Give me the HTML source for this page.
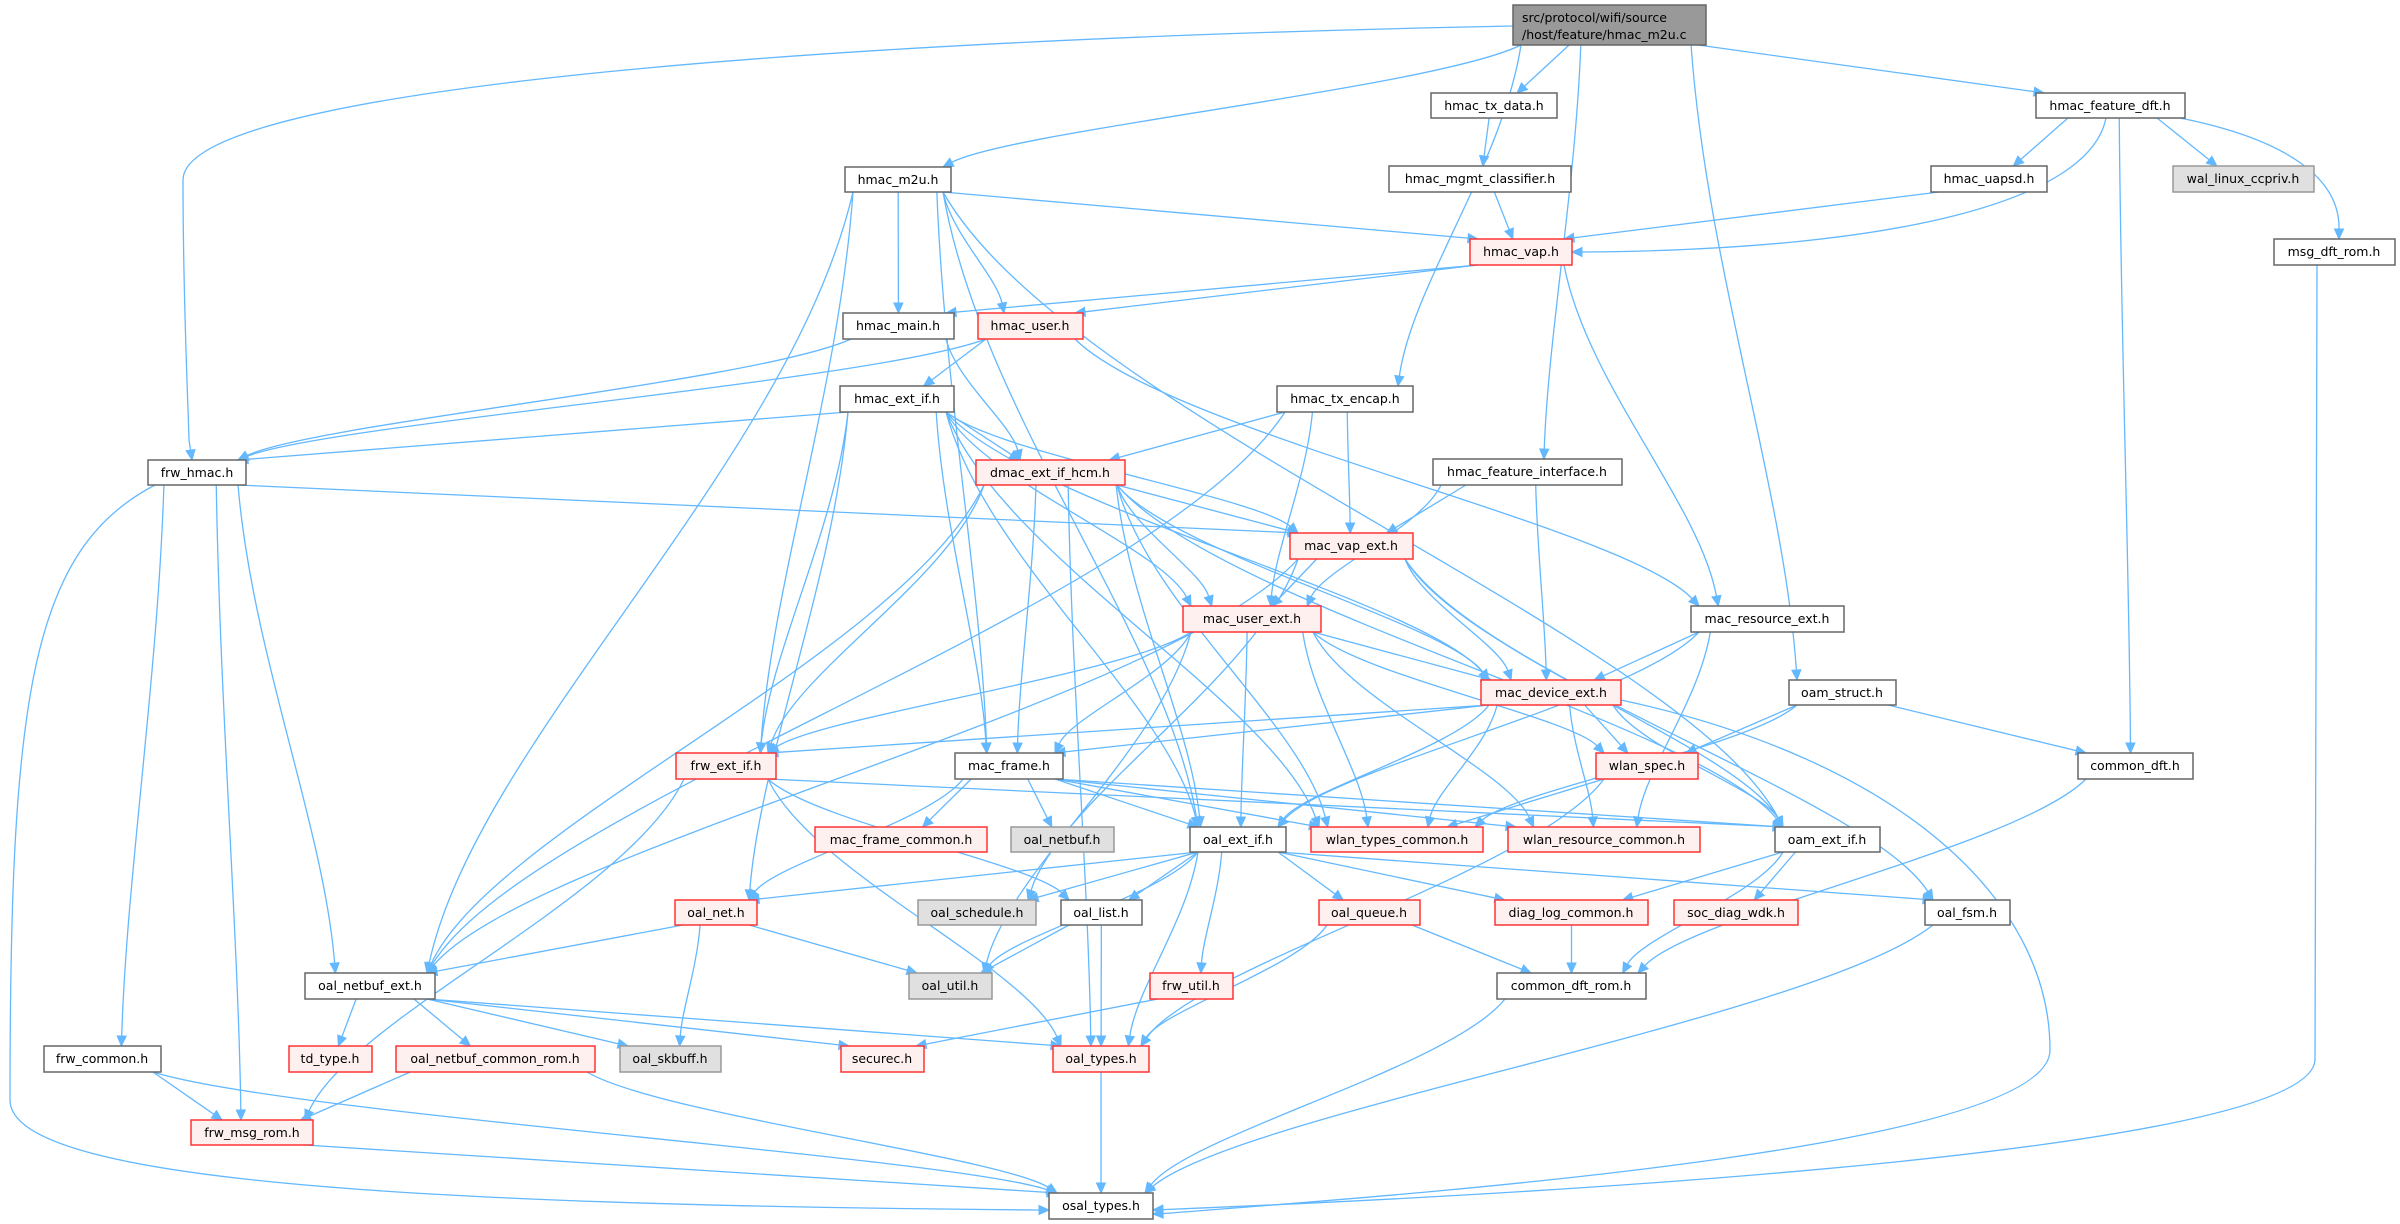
<!DOCTYPE html>
<html><head><meta charset="utf-8">
<style>
html,body{margin:0;padding:0;background:#fff;}
svg{display:block;}
text{font-family:"DejaVu Sans","Liberation Sans",sans-serif;font-size:12.5px;fill:#000;text-anchor:middle;}
.n rect{fill:#fff;stroke:#666;stroke-width:1.5;}
.r rect{fill:#fff0f0;stroke:#f33;stroke-width:1.5;}
.g rect{fill:#e0e0e0;stroke:#999;stroke-width:1.5;}
.root rect{fill:#999;stroke:#666;stroke-width:1.5;}
</style></head>
<body>
<svg id="s" width="2400" height="1224" viewBox="0 0 2400 1224" xmlns="http://www.w3.org/2000/svg">
<g id="edges"></g>
<g id="nodes">
<g class="root"><rect x="1513" y="5" width="193" height="40"/><text x="1609" y="22" style="text-anchor:start" dx="-87">src/protocol/wifi/source</text><text x="1609" y="39" style="text-anchor:start" dx="-87">/host/feature/hmac_m2u.c</text></g>
<g class="n"><rect x="845" y="167" width="106" height="25"/><text x="898" y="184">hmac_m2u.h</text></g>
<g class="n"><rect x="843" y="313" width="111" height="26"/><text x="898" y="330">hmac_main.h</text></g>
<g class="r"><rect x="978" y="313" width="105" height="26"/><text x="1030" y="330">hmac_user.h</text></g>
<g class="n"><rect x="840" y="386" width="114" height="26"/><text x="897" y="403">hmac_ext_if.h</text></g>
<g class="n"><rect x="148" y="460" width="98" height="25"/><text x="197" y="477">frw_hmac.h</text></g>
<g class="r"><rect x="976" y="460" width="149" height="25"/><text x="1050" y="477">dmac_ext_if_hcm.h</text></g>
<g class="n"><rect x="1431" y="93" width="126" height="25"/><text x="1494" y="110">hmac_tx_data.h</text></g>
<g class="n"><rect x="2036" y="93" width="149" height="25"/><text x="2110" y="110">hmac_feature_dft.h</text></g>
<g class="n"><rect x="1389" y="166" width="182" height="26"/><text x="1480" y="183">hmac_mgmt_classifier.h</text></g>
<g class="n"><rect x="1931" y="166" width="116" height="26"/><text x="1989" y="183">hmac_uapsd.h</text></g>
<g class="g"><rect x="2173" y="166" width="141" height="26"/><text x="2243" y="183">wal_linux_ccpriv.h</text></g>
<g class="r"><rect x="1470" y="239" width="102" height="26"/><text x="1521" y="256">hmac_vap.h</text></g>
<g class="n"><rect x="2274" y="239" width="121" height="26"/><text x="2334" y="256">msg_dft_rom.h</text></g>
<g class="n"><rect x="1277" y="386" width="136" height="26"/><text x="1345" y="403">hmac_tx_encap.h</text></g>
<g class="n"><rect x="1433" y="459" width="189" height="26"/><text x="1527" y="476">hmac_feature_interface.h</text></g>
<g class="r"><rect x="1290" y="533" width="123" height="26"/><text x="1351" y="550">mac_vap_ext.h</text></g>
<g class="r"><rect x="1183" y="606" width="138" height="26"/><text x="1252" y="623">mac_user_ext.h</text></g>
<g class="n"><rect x="1691" y="606" width="153" height="26"/><text x="1767" y="623">mac_resource_ext.h</text></g>
<g class="r"><rect x="1481" y="680" width="140" height="25"/><text x="1551" y="697">mac_device_ext.h</text></g>
<g class="n"><rect x="1789" y="680" width="107" height="25"/><text x="1842" y="697">oam_struct.h</text></g>
<g class="r"><rect x="1596" y="753" width="102" height="26"/><text x="1647" y="770">wlan_spec.h</text></g>
<g class="n"><rect x="2078" y="753" width="115" height="26"/><text x="2135" y="770">common_dft.h</text></g>
<g class="n"><rect x="1190" y="827" width="96" height="25"/><text x="1238" y="844">oal_ext_if.h</text></g>
<g class="r"><rect x="1311" y="827" width="172" height="25"/><text x="1397" y="844">wlan_types_common.h</text></g>
<g class="r"><rect x="1508" y="827" width="192" height="25"/><text x="1604" y="844">wlan_resource_common.h</text></g>
<g class="n"><rect x="1775" y="827" width="105" height="25"/><text x="1827" y="844">oam_ext_if.h</text></g>
<g class="r"><rect x="1319" y="900" width="101" height="25"/><text x="1369" y="917">oal_queue.h</text></g>
<g class="r"><rect x="1495" y="900" width="153" height="25"/><text x="1571" y="917">diag_log_common.h</text></g>
<g class="r"><rect x="1674" y="900" width="124" height="25"/><text x="1736" y="917">soc_diag_wdk.h</text></g>
<g class="n"><rect x="1925" y="900" width="85" height="25"/><text x="1967" y="917">oal_fsm.h</text></g>
<g class="r"><rect x="1150" y="973" width="83" height="26"/><text x="1191" y="990">frw_util.h</text></g>
<g class="n"><rect x="1497" y="973" width="149" height="26"/><text x="1571" y="990">common_dft_rom.h</text></g>
<g class="n"><rect x="1049" y="1193" width="104" height="26"/><text x="1101" y="1210">osal_types.h</text></g>
<g class="r"><rect x="676" y="753" width="100" height="26"/><text x="726" y="770">frw_ext_if.h</text></g>
<g class="n"><rect x="955" y="753" width="108" height="26"/><text x="1009" y="770">mac_frame.h</text></g>
<g class="r"><rect x="815" y="827" width="172" height="25"/><text x="901" y="844">mac_frame_common.h</text></g>
<g class="g"><rect x="1011" y="827" width="103" height="25"/><text x="1062" y="844">oal_netbuf.h</text></g>
<g class="r"><rect x="675" y="900" width="82" height="25"/><text x="716" y="917">oal_net.h</text></g>
<g class="g"><rect x="918" y="900" width="118" height="25"/><text x="977" y="917">oal_schedule.h</text></g>
<g class="n"><rect x="1061" y="900" width="81" height="25"/><text x="1101" y="917">oal_list.h</text></g>
<g class="n"><rect x="305" y="973" width="130" height="26"/><text x="370" y="990">oal_netbuf_ext.h</text></g>
<g class="g"><rect x="909" y="973" width="83" height="26"/><text x="950" y="990">oal_util.h</text></g>
<g class="n"><rect x="44" y="1046" width="117" height="26"/><text x="102" y="1063">frw_common.h</text></g>
<g class="r"><rect x="289" y="1046" width="83" height="26"/><text x="330" y="1063">td_type.h</text></g>
<g class="r"><rect x="396" y="1046" width="199" height="26"/><text x="495" y="1063">oal_netbuf_common_rom.h</text></g>
<g class="g"><rect x="620" y="1046" width="101" height="26"/><text x="670" y="1063">oal_skbuff.h</text></g>
<g class="r"><rect x="841" y="1046" width="83" height="26"/><text x="882" y="1063">securec.h</text></g>
<g class="r"><rect x="1053" y="1046" width="96" height="26"/><text x="1101" y="1063">oal_types.h</text></g>
<g class="r"><rect x="191" y="1120" width="122" height="25"/><text x="252" y="1137">frw_msg_rom.h</text></g>
</g>
</svg>
<script>
var N={root:[1513,1706,5,45],m2u:[845,951,167,192],main:[843,954,313,339],user:[978,1083,313,339],extif:[840,954,386,412],
frwhmac:[148,246,460,485],dmac:[976,1125,460,485],txdata:[1431,1557,93,118],fdft:[2036,2185,93,118],mgmt:[1389,1571,166,192],
uapsd:[1931,2047,166,192],wal:[2173,2314,166,192],vap:[1470,1572,239,265],msgdft:[2274,2395,239,265],txencap:[1277,1413,386,412],
finter:[1433,1622,459,485],macvap:[1290,1413,533,559],macuser:[1183,1321,606,632],macres:[1691,1844,606,632],macdev:[1481,1621,680,705],
oamstruct:[1789,1896,680,705],wlanspec:[1596,1698,753,779],cdft:[2078,2193,753,779],oalext:[1190,1286,827,852],wtypes:[1311,1483,827,852],
wres:[1508,1700,827,852],oamext:[1775,1880,827,852],oalqueue:[1319,1420,900,925],diag:[1495,1648,900,925],socdiag:[1674,1798,900,925],
oalfsm:[1925,2010,900,925],frwutil:[1150,1233,973,999],cdftrom:[1497,1646,973,999],osal:[1049,1153,1193,1219],frwext:[676,776,753,779],
macframe:[955,1063,753,779],mfc:[815,987,827,852],oalnetbuf:[1011,1114,827,852],oalnet:[675,757,900,925],oalsched:[918,1036,900,925],
oallist:[1061,1142,900,925],netbufext:[305,435,973,999],oalutil:[909,992,973,999],frwcommon:[44,161,1046,1072],tdtype:[289,372,1046,1072],
nbcr:[396,595,1046,1072],skbuff:[620,721,1046,1072],securec:[841,924,1046,1072],oaltypes:[1053,1149,1046,1072],frwmsg:[191,313,1120,1145]};
var E={root:"m2u txdata txencap finter oamstruct fdft",fdft:"uapsd wal cdft",txdata:"mgmt",mgmt:"vap",uapsd:"vap",
vap:"main user macres",m2u:"main user vap oamext frwext macframe netbufext oalext",main:"frwhmac dmac",user:"frwhmac extif macres",
extif:"frwhmac dmac macvap macuser macdev frwext macframe oalext oalnet wtypes",txencap:"dmac macvap macuser netbufext",
finter:"macvap macuser macdev",frwhmac:"macvap frwcommon frwmsg netbufext",
dmac:"macvap macuser macdev frwext macframe oalext netbufext oaltypes wtypes oamext",
macvap:"macuser macdev netbufext oalsched oamext oalfsm",macuser:"macdev frwext macframe oalext wtypes wres wlanspec oalutil",
macres:"macdev oalext wres",macdev:"frwext macframe oalext wtypes wres wlanspec oamext",oamstruct:"wlanspec wtypes cdft",
wlanspec:"wtypes oaltypes",cdft:"cdftrom",frwext:"oamext oallist oaltypes frwmsg",
macframe:"oalnet mfc oalnetbuf oalext wtypes wres oamext",oalext:"oalnet oalsched oallist oalutil frwutil oaltypes oalqueue diag oalfsm",
oamext:"diag socdiag cdftrom",oalnet:"netbufext oalutil skbuff",oallist:"oalutil oaltypes",oalqueue:"cdftrom oaltypes",diag:"cdftrom",
frwutil:"securec",oalfsm:"osal",cdftrom:"osal",netbufext:"tdtype nbcr skbuff securec oaltypes",nbcr:"frwmsg osal",
frwcommon:"frwmsg osal",frwmsg:"osal",oaltypes:"osal"};
var C="#63b8ff",out="";
function cl(v,a,b){return Math.max(a,Math.min(b,v));}
function arrow(px,py,tx,ty){var dx=tx-px,dy=ty-py,l=Math.sqrt(dx*dx+dy*dy)||1;dx/=l;dy/=l;
var bx=tx-dx*10,by=ty-dy*10;out+='<polygon fill="'+C+'" stroke="'+C+'" points="'+tx+','+ty+' '+(bx-dy*4.5)+','+(by+dx*4.5)+' '+(bx+dy*4.5)+','+(by-dx*4.5)+'"/>';return [bx,by];}
function custom(d,px,py,tx,ty){var b=arrow(px,py,tx,ty);out+='<path fill="none" stroke="'+C+'" stroke-width="1.3" d="'+d+' '+b[0]+','+b[1]+'"/>';}
for(var s in E){E[s].split(" ").forEach(function(t){
 var a=N[s],b=N[t];var sc=(a[0]+a[1])/2,tc=(b[0]+b[1])/2;
 var sx=cl(sc+(tc-sc)*0.35,a[0]+8,a[1]-8),sy=a[3];
 var tx=cl(tc+(sc-tc)*0.2,b[0]+8,b[1]-8),ty=b[2];
 var dy=ty-sy;
 if(dy<110){var e=arrow(sx,sy,tx,ty);out+='<path fill="none" stroke="'+C+'" stroke-width="1.3" d="M'+sx+','+sy+' L'+e[0]+','+e[1]+'"/>';}
 else{var c1x=sx+(tx-sx)*0.15,c1y=sy+dy*0.35,c2x=tx+(sx-tx)*0.12,c2y=ty-dy*0.3;
  var e=arrow(c2x,c2y,tx,ty);out+='<path fill="none" stroke="'+C+'" stroke-width="1.3" d="M'+sx+','+sy+' C'+c1x+','+c1y+' '+c2x+','+c2y+' '+e[0]+','+e[1]+'"/>';}
});}
custom("M1513,26 C800,40 183,90 183,180 C183,300 188,400 189,440 L",189,440,192,460);
custom("M2317,265 L2315,1060 C2310,1160 1400,1200",1300,1204,1153,1210);
custom("M1621,700 C1900,760 2050,900 2050,1050 C2050,1150 1400,1195",1300,1208,1153,1214);
custom("M2180,118 C2290,140 2340,180 2339,229 L",2339,220,2339,239);
custom("M2106,118 C2090,200 1900,250",1600,252,1572,252);
custom("M155,485 C30,550 10,700 10,1100 C10,1180 400,1205",1000,1210,1049,1210);
document.getElementById("edges").innerHTML=out;
</script>
</body></html>
